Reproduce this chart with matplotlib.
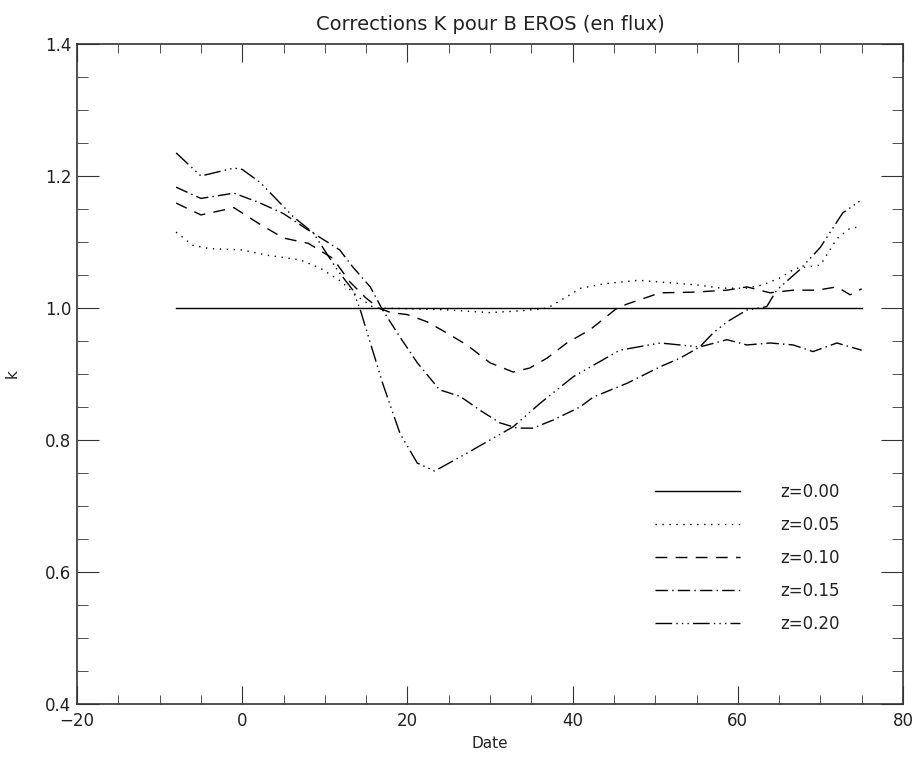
import numpy as np
import matplotlib
matplotlib.use("Agg")
import matplotlib.pyplot as plt
from matplotlib.ticker import MultipleLocator

# dates (days) and k-corrections
date_00 = [-8, 75]
k_00 = [1.0, 1.0]

date_05 = [-8, -6, -4, 0, 3, 7, 9.5, 12, 14, 16, 20, 25, 30, 34, 37, 39, 41, 44,
           48, 52, 55, 58, 61, 63, 65, 67, 70, 72, 73.5, 75]
k_05 = [1.115, 1.095, 1.090, 1.088, 1.080, 1.073, 1.060, 1.040, 1.017, 1.000,
        0.999, 0.997, 0.993, 0.996, 1.000, 1.015, 1.030, 1.037, 1.042, 1.038,
        1.035, 1.030, 1.030, 1.035, 1.045, 1.060, 1.065, 1.105, 1.120, 1.124]

date_10 = [-8, -5, -1, 2, 5, 8, 11, 13, 15, 16.5, 18, 20, 22.4, 24.8, 27.2, 30,
           32.8, 34.8, 36.9, 39.3, 42.1, 45.4, 46.6, 50.6, 54.6, 58.7, 61.1,
           63.9, 66.7, 69.6, 72, 73.6, 75]
k_10 = [1.159, 1.141, 1.152, 1.128, 1.106, 1.098, 1.075, 1.040, 1.015, 1.000,
        0.993, 0.990, 0.979, 0.962, 0.944, 0.917, 0.903, 0.909, 0.924, 0.947,
        0.967, 1.000, 1.006, 1.023, 1.024, 1.027, 1.032, 1.023, 1.027, 1.027,
        1.032, 1.020, 1.029]

date_15 = [-8, -5, -1, 2, 5, 8, 10.3, 11.8, 13.4, 15.5, 17, 19.1, 21.2, 23.9,
           26.4, 28.8, 31.2, 33.3, 35.2, 37.6, 40.9, 42.5, 46.6, 50.6, 53,
           55.4, 58.7, 61.1, 63.9, 66.7, 69.1, 72, 75]
k_15 = [1.183, 1.166, 1.174, 1.160, 1.143, 1.118, 1.100, 1.088, 1.062, 1.032,
        0.997, 0.956, 0.917, 0.876, 0.866, 0.845, 0.826, 0.818, 0.818, 0.830,
        0.850, 0.865, 0.886, 0.911, 0.924, 0.941, 0.952, 0.944, 0.947, 0.944,
        0.934, 0.947, 0.936]

date_20 = [-8, -5, -1, 0, 2.2, 6.2, 8.6, 11.5, 13.4, 14.3, 17, 19.1, 21.2, 23.3,
           27.2, 32.8, 36.1, 40.1, 45.7, 50.6, 55.4, 57, 58.7, 61.1, 63.5, 64.7,
           67.5, 70, 72.7, 75]
k_20 = [1.235, 1.200, 1.212, 1.210, 1.190, 1.138, 1.114, 1.058, 1.027, 0.997,
        0.886, 0.810, 0.765, 0.753, 0.780, 0.820, 0.856, 0.896, 0.936, 0.947,
        0.941, 0.962, 0.979, 0.997, 1.002, 1.027, 1.058, 1.092, 1.144, 1.164]

labels = ["z=0.00", "z=0.05", "z=0.10", "z=0.15", "z=0.20"]
styles = ["-", (0, (1, 4)), (0, (8.5, 6)), (0, (9, 3, 1, 3)),
          (0, (12, 3, 1, 3, 1, 3, 1, 3))]
series = [(date_00, k_00), (date_05, k_05), (date_10, k_10),
          (date_15, k_15), (date_20, k_20)]

plt.rcParams['font.family'] = ['DejaVu Sans']

fig = plt.figure(figsize=(9.16, 7.58), dpi=100)
ax = fig.add_axes([77 / 916, 54 / 758, 826 / 916, 660 / 758])

for (d, k), ls, lab in zip(series, styles, labels):
    ax.plot(d, k, color="black", lw=1.0, linestyle=ls, label=lab)

ax.set_xlim(-20, 80)
ax.set_ylim(0.4, 1.4)
ax.xaxis.set_major_locator(MultipleLocator(20))
ax.xaxis.set_minor_locator(MultipleLocator(5))
ax.yaxis.set_major_locator(MultipleLocator(0.2))
ax.yaxis.set_minor_locator(MultipleLocator(0.05))
ax.yaxis.set_major_formatter(plt.FuncFormatter(lambda v, p: f"{v:.1f}"))

ax.tick_params(which="both", direction="in", top=True, right=True,
               color="#333333", labelsize=12, labelcolor="#222222")
ax.tick_params(axis="x", which="major", length=13, pad=6)
ax.tick_params(axis="x", which="minor", length=6.5)
ax.tick_params(axis="y", which="major", length=16, pad=4)
ax.tick_params(axis="y", which="minor", length=8)
for s in ax.spines.values():
    s.set_color("#333333")
    s.set_linewidth(1.2)

ax.set_title("Corrections K pour B EROS (en flux)", fontsize=14,
             color="#222222", pad=10)
ax.set_xlabel("Date", fontsize=11, color="#222222", labelpad=4)
ax.set_ylabel("k", fontsize=11, color="#222222")
ax.yaxis.set_label_coords(-0.07, 0.5)

ax.legend(loc="upper left", bbox_to_anchor=(0.70, 0.335), frameon=False,
          fontsize=12, handlelength=5.1, handletextpad=2.4, labelspacing=0.9,
          borderpad=0, borderaxespad=0, labelcolor="#222222")

fig.savefig("out.png", dpi=100)
